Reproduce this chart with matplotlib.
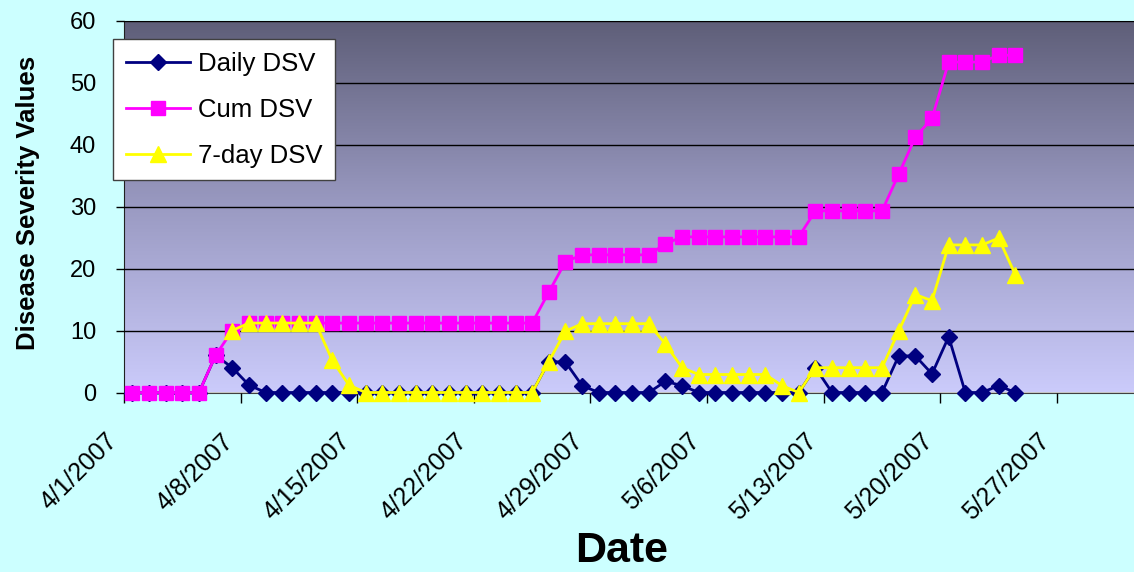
import datetime as dt

import matplotlib
matplotlib.use("Agg")
import matplotlib.dates as mdates
import matplotlib.pyplot as plt
import numpy as np
from matplotlib.colors import LinearSegmentedColormap
from matplotlib.transforms import ScaledTranslation

plt.rcParams["font.family"] = ["Liberation Sans", "DejaVu Sans"]

# ---- data (one value per day, starting 4/1/2007) ----
start = dt.date(2007, 4, 1)
dates = [start + dt.timedelta(days=k) for k in range(54)]  # 4/1 .. 5/24

daily_dsv = [0, 0, 0, 0, 0, 6, 4, 1.2,
             0, 0, 0, 0, 0, 0, 0, 0, 0, 0, 0, 0, 0, 0, 0, 0, 0,
             5, 4.9, 1.1, 0, 0, 0, 0, 1.8, 1.1,
             0, 0, 0, 0, 0, 0, 0, 4, 0, 0, 0, 0,
             5.9, 5.9, 3, 9, 0, 0, 1.1, 0]

cum_dsv = [0, 0, 0, 0, 0, 6, 10,
           11.2, 11.2, 11.2, 11.2, 11.2, 11.2, 11.2, 11.2, 11.2,
           11.2, 11.2, 11.2, 11.2, 11.2, 11.2, 11.2, 11.2, 11.2,
           16.2, 21.1, 22.2, 22.2, 22.2, 22.2, 22.2, 24.0,
           25.1, 25.1, 25.1, 25.1, 25.1, 25.1, 25.1, 25.1,
           29.3, 29.3, 29.3, 29.3, 29.3,
           35.2, 41.2, 44.2, 53.3, 53.3, 53.3, 54.4, 54.4]

# 7-day DSV starts on 4/7 (first full week)
week_dsv = [10, 11.2, 11.2, 11.2, 11.2, 11.2, 5.2, 1.2,
            0, 0, 0, 0, 0, 0, 0, 0, 0, 0, 0,
            5, 9.9, 11.1, 11.1, 11.1, 11.1, 11.1, 7.8, 4.0,
            2.9, 2.9, 2.9, 2.9, 2.9, 1.1, 0,
            4, 4, 4, 4, 4,
            9.9, 15.8, 14.8, 23.8, 23.8, 23.8, 24.9, 19.0]

tick_labels = ["4/1/2007", "4/8/2007", "4/15/2007", "4/22/2007", "4/29/2007",
               "5/6/2007", "5/13/2007", "5/20/2007", "5/27/2007"]

W, H = 1134, 572
fig = plt.figure(figsize=(W / 100, H / 100), dpi=100, facecolor="#CCFFFF")
ax = fig.add_axes([124 / W, 1 - 392.5 / H, (W - 124) / W, (392.5 - 20.5) / H])

# plot area gradient (dark slate at top -> lavender at bottom)
grad = np.linspace(0, 1, 256).reshape(-1, 1)
cmap = LinearSegmentedColormap.from_list("bg", ["#5E5E78", "#9A9AC2", "#CBCBFB"])
ax.imshow(grad, extent=(0, 1, 0, 1), transform=ax.transAxes, cmap=cmap,
          aspect="auto", origin="upper", zorder=0)

x0 = mdates.date2num(start)
xs = mdates.date2num(dates) + 0.5  # points sit in the middle of each day

common = dict(lw=2.0, clip_on=False)
ax.plot(xs, daily_dsv, color="#000080", marker="D", ms=8.5, mec="#000080",
        label="Daily DSV", zorder=3, **common)
ax.plot(xs, cum_dsv, color="#FF00FF", marker="s", ms=10, mec="#FF00FF",
        label="Cum DSV", zorder=4, **common)
ax.plot(xs[6:], week_dsv, color="#FFFF00", marker="^", ms=12, mec="#FFFF00",
        label="7-day DSV", zorder=5, **common)

ax.set_xlim(x0, x0 + (W - 124) / 16.66)
ax.set_ylim(0, 60)
ax.set_yticks(range(0, 61, 10))
xticks = [x0 + 7 * k for k in range(len(tick_labels))]
ax.set_xticks(xticks)
ax.set_xticklabels([])

# rotated date labels, right end tucked under each tick
lbl_tf = ax.get_xaxis_transform() + ScaledTranslation(-11 / 100, -45 / 100, fig.dpi_scale_trans)
for xt, txt in zip(xticks, tick_labels):
    ax.text(xt, 0, txt, transform=lbl_tf, rotation=45, ha="right", va="center",
            rotation_mode="anchor", fontsize=18, clip_on=False)

ax.yaxis.grid(True, color="black", lw=1, zorder=1)
ax.set_axisbelow(False)
ax.tick_params(axis="y", direction="out", length=6, width=1, pad=14, labelsize=17)
ax.tick_params(axis="x", direction="out", length=7, width=1)

ax.spines["top"].set_color("#808080")
ax.spines["right"].set_visible(False)
ax.spines["left"].set_color("#202020")
ax.spines["bottom"].set_color("#404040")
for s in ax.spines.values():
    s.set_zorder(2)

fig.text(28 / W, 1 - 203 / H, "Disease Severity Values", rotation=90,
         ha="center", va="center", fontsize=18.5, fontweight="bold")
fig.text(622 / W, 0.5 / H, "Date", ha="center", va="bottom",
         fontsize=31, fontweight="bold")

leg = ax.legend(loc="upper left", bbox_to_anchor=(113 / W, 1 - 39 / H),
                bbox_transform=fig.transFigure, fontsize=18.5, frameon=True,
                fancybox=False, framealpha=1, borderpad=0.5, handlelength=2.5,
                handletextpad=0.3, labelspacing=0.85, borderaxespad=0)
leg.get_frame().set_edgecolor("#404040")
leg.get_frame().set_linewidth(1)
leg.set_zorder(10)

fig.savefig("out.png", dpi=100, facecolor=fig.get_facecolor())
